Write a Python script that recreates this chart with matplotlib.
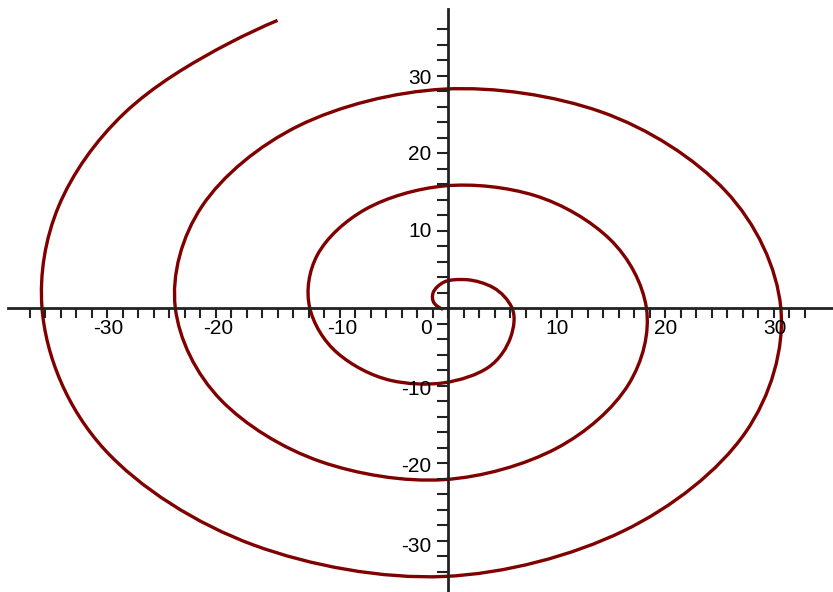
import numpy as np
import matplotlib
matplotlib.use("Agg")
import matplotlib.pyplot as plt
from matplotlib.path import Path
from matplotlib.patches import PathPatch

plt.rcParams['font.family'] = ['Liberation Sans', 'DejaVu Sans']

# points along the spiral, from the centre outwards
# (every 30 degrees, every 20 degrees on the last part of the outer turn)
spiral_x = [0.1, -0.7, -0.8, 0.2, 2.2, 4.6, 6.3, 6.2, 4.2, 0.2, -4.6, -9.4,
            -11.9, -11.2, -6.9, 0.2, 8.3, 15.1, 18.4, 16.8, 10.3, 0.2, -10.9, -19.9,
            -24.0, -21.6, -12.9, 0.2, 14.3, 25.5, 30.5, 27.3, 16.3, 0.2, -16.9, -30.4,
            -36.0, -34.5, -28.6, -19.0, -14.8]
spiral_y = [0.4, 1.2, 2.5, 3.9, 4.2, 3.2, 0.6, -3.1, -7.0, -9.0, -8.7, -5.2,
            0.6, 7.4, 13.2, 16.2, 15.0, 9.4, 0.6, -9.2, -17.4, -21.4, -19.1, -11.2,
            0.6, 13.6, 23.9, 28.6, 25.7, 15.6, 0.6, -15.4, -28.0, -33.8, -29.8, -17.5,
            0.6, 13.6, 25.5, 34.6, 37.4]

xtick_labels = ['-30', '-20', '-10', '0', '10', '20', '30']
xtick_label_pos = [-30.0, -20.1, -9.0, -1.4, 10.35, 20.1, 30.0]
ytick_labels = ['30', '20', '10', '-10', '-20', '-30']
ytick_label_pos = [30.0, 20.2, 10.4, -9.9, -19.7, -30.0]


def smooth_path(xs, ys):
    # smooth curve through the points (three-point tangents on a
    # chord-length parameter), written as cubic Bezier segments
    p = np.column_stack([xs, ys]).astype(float)
    d = np.hypot(*np.diff(p, axis=0).T)
    s = np.diff(p, axis=0) / d[:, None]          # slope of each chord
    m = np.empty_like(p)
    h0, h1 = d[:-1, None], d[1:, None]
    m[1:-1] = (h1 * s[:-1] + h0 * s[1:]) / (h0 + h1)
    m[0] = 2 * s[0] - m[1]
    m[-1] = 2 * s[-1] - m[-2]
    verts = [p[0]]
    codes = [Path.MOVETO]
    for i in range(len(p) - 1):
        verts += [p[i] + m[i] * d[i] / 3, p[i + 1] - m[i + 1] * d[i] / 3, p[i + 1]]
        codes += [Path.CURVE4] * 3
    return Path(verts, codes)


fig = plt.figure(figsize=(8.33, 5.92), dpi=100)
ax = fig.add_axes([0, 0, 1, 1])
ax.set_xlim(-39.78, 35.2)
ax.set_ylim(-35.79, 40.01)

axis_color = '#222222'
for side in ['top', 'right']:
    ax.spines[side].set_visible(False)
ax.spines['left'].set_position(('data', 0.57))
ax.spines['bottom'].set_position(('data', 0.54))
ax.spines['left'].set_bounds(-35.8, 38.8)
ax.spines['bottom'].set_bounds(-39.1, 35.2)
for side in ['left', 'bottom']:
    ax.spines[side].set_linewidth(2.0)
    ax.spines[side].set_color(axis_color)

ax.set_xticks(0.57 + 1.395 * np.arange(-27, 24))
ax.set_yticks(0.54 + 1.985 * np.arange(-17, 19))
ax.tick_params(axis='x', direction='out', length=7, width=1.5, color=axis_color,
               labelbottom=False)
ax.tick_params(axis='y', direction='out', length=8, width=1.5, color=axis_color,
               labelleft=False)

for lab, xp in zip(xtick_labels, xtick_label_pos):
    ax.text(xp, -2.0, lab, ha='center', va='center', fontsize=15, color='black')
for lab, yp in zip(ytick_labels, ytick_label_pos):
    ax.text(-0.93, yp, lab, ha='right', va='center', fontsize=15, color='black')

patch = PathPatch(smooth_path(spiral_x, spiral_y), fill=False,
                  edgecolor='#800000', linewidth=2.4, capstyle='butt')
ax.add_patch(patch)

fig.savefig('out.png', dpi=100)
